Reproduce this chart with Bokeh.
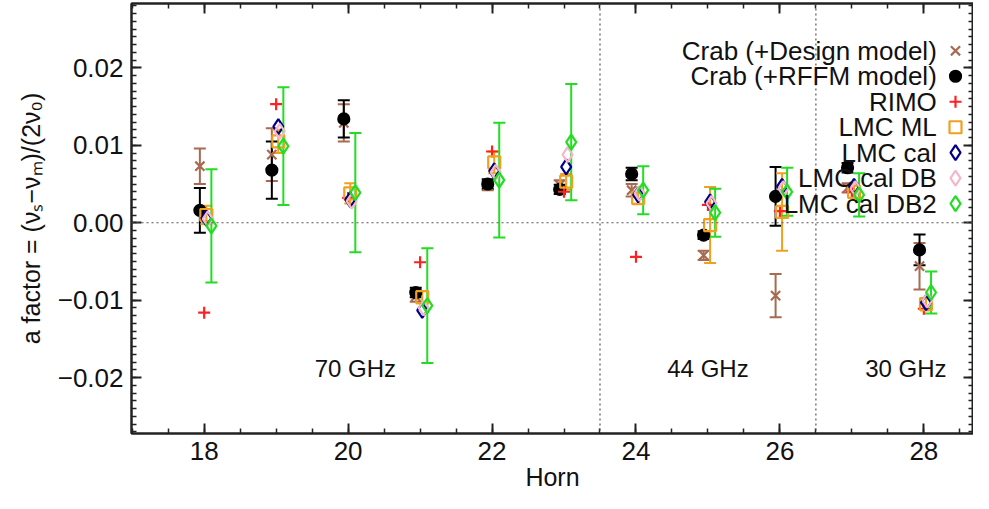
from bokeh.plotting import figure
from bokeh.models import (ColumnDataSource, Whisker, TeeHead, Span, Label, FixedTicker,
                          LinearAxis, CustomJSTickFormatter, Range1d)
from bokeh.embed import file_html
from bokeh.resources import INLINE

# ---------------- data ----------------
horns = [18, 19, 20, 21, 22, 23, 24, 25, 26, 27, 28]

crab_design     = [0.0073, 0.0088, 0.0129, -0.0095, 0.0048, 0.0049, 0.0042, -0.0042, -0.0094, 0.0045, -0.0056]
crab_design_err = [0.0023, 0.0034, 0.0024, 0.0007, 0.0006, 0.0006, 0.0008, 0.0006, 0.0028, 0.0006, 0.0030]
crab_rffm       = [0.0016, 0.0068, 0.0134, -0.0090, 0.0050, 0.0043, 0.0063, -0.0016, 0.0034, 0.0071, -0.0035]
crab_rffm_err   = [0.0029, 0.0037, 0.0024, 0.0006, 0.0006, 0.0006, 0.0008, 0.0005, 0.0038, 0.0006, 0.0020]
rimo            = [-0.0116, 0.0153, 0.0032, -0.0051, 0.0092, 0.0040, -0.0044, 0.0023, 0.0015, 0.0040, -0.0111]
lmc_ml          = [0.0010, 0.0105, 0.0038, -0.0096, 0.0078, 0.0053, 0.0032, -0.0003, 0.0014, 0.0040, -0.0105]
lmc_ml_err      = [0.0012, 0.0015, 0.0013, 0.0008, 0.0014, 0.0010, 0.0008, 0.0049, 0.0050, 0.0008, 0.0008]
lmc_cal         = [0.0006, 0.0124, 0.0030, -0.0113, 0.0067, 0.0072, 0.0036, 0.0027, 0.0047, 0.0047, -0.0103]
lmc_cal_db      = [0.0005, 0.0118, 0.0028, -0.0110, 0.0065, 0.0088, 0.0038, 0.0025, 0.0044, 0.0044, -0.0100]
lmc_cal_db2     = [-0.0004, 0.0099, 0.0039, -0.0107, 0.0055, 0.0104, 0.0042, 0.0013, 0.0040, 0.0036, -0.0090]
lmc_cal_db2_err = [0.0073, 0.0076, 0.0077, 0.0074, 0.0074, 0.0075, 0.0031, 0.0031, 0.0031, 0.0028, 0.0027]

x_ticks = [18, 20, 22, 24, 26, 28]
y_ticks = [-0.02, -0.01, 0.0, 0.01, 0.02]
band_edges = [23.5, 26.5]
band_labels = ["70 GHz", "44 GHz", "30 GHz"]
band_label_x = [20.1, 25.0, 27.75]

# ---------------- style ----------------
FONT = "Liberation Sans"
series = [
    # label, values, errors, marker, color, filled, size, x-offset
    ("Crab (+Design model)", crab_design, crab_design_err, "x", "#a86a50", False, 13, -0.06),
    ("Crab (+RFFM model)", crab_rffm, crab_rffm_err, "circle", "black", True, 11, -0.06),
    ("RIMO", rimo, None, "cross", "#ff2020", False, 12, 0.0),
    ("LMC ML", lmc_ml, lmc_ml_err, "square", "#f0a020", False, 12, 0.03),
    ("LMC cal", lmc_cal, None, "diamond", "#000088", False, 15, 0.03),
    ("LMC cal DB", lmc_cal_db, None, "diamond", "#f4b8cc", False, 15, 0.05),
    ("LMC cal DB2", lmc_cal_db2, lmc_cal_db2_err, "diamond", "#22dd22", False, 15, 0.10),
]

p = figure(width=973, height=493, output_backend="svg", toolbar_location=None,
           x_range=Range1d(16.99, 28.69), y_range=Range1d(-0.0272, 0.0283),
           min_border_left=131, min_border_right=0, min_border_top=3, min_border_bottom=0)
p.xgrid.visible = False
p.ygrid.visible = False
p.outline_line_color = "#222222"
p.outline_line_width = 2
p.background_fill_color = "white"
p.border_fill_color = "white"

fmt = CustomJSTickFormatter(code="return (tick < -1e-9 ? '\u2212' : '') + Math.abs(tick).toFixed(2);")
blank = CustomJSTickFormatter(code="return '';")
xt = FixedTicker(ticks=x_ticks, minor_ticks=[17 + 0.5 * i for i in range(25)])
yt = FixedTicker(ticks=y_ticks, minor_ticks=[round(-0.028 + 0.001 * i, 4) for i in range(58)])

def style_axis(ax, labels=True):
    ax.axis_line_color = "#222222"
    ax.axis_line_width = 2
    ax.major_tick_line_color = "#222222"
    ax.minor_tick_line_color = "#222222"
    ax.major_tick_line_width = 2
    ax.minor_tick_line_width = 1.5
    ax.major_tick_in = 10
    ax.major_tick_out = 0
    ax.minor_tick_in = 5
    ax.minor_tick_out = 0
    if labels:
        ax.major_label_text_font = FONT
        ax.major_label_text_font_size = "26px"
        ax.major_label_text_color = "#111111"
        ax.axis_label_text_font = FONT
        ax.axis_label_text_font_size = "25px"
        ax.axis_label_text_font_style = "normal"
        ax.axis_label_text_color = "#111111"
    else:
        ax.formatter = blank
        ax.major_label_standoff = 0

p.xaxis.ticker = xt
p.yaxis.ticker = yt
p.yaxis.formatter = fmt
style_axis(p.xaxis[0])
style_axis(p.yaxis[0])
p.xaxis.axis_label = "Horn"
p.xaxis.major_label_standoff = 8
p.xaxis.axis_label_standoff = 0
p.yaxis.axis_label = "a factor = (\u03bd\u209b\u2212\u03bd\u2098)/(2\u03bd\u2080)"
p.yaxis.major_label_standoff = 8
p.yaxis.axis_label_standoff = 10

top = LinearAxis(ticker=xt)
style_axis(top, labels=False)
p.add_layout(top, "above")
right = LinearAxis(ticker=yt)
style_axis(right, labels=False)
p.add_layout(right, "right")

# reference lines
p.add_layout(Span(location=0, dimension="width", line_color="#555555", line_width=1.2, line_dash="2 3"))
for b in band_edges:
    p.add_layout(Span(location=b, dimension="height", line_color="#555555", line_width=1.2, line_dash="2 3"))

for txt, bx in zip(band_labels, band_label_x):
    p.add_layout(Label(x=bx, y=-0.01875, text=txt, text_font=FONT, text_font_size="24px",
                       text_align="center", text_baseline="middle", text_color="#111111"))

# data
for label, vals, errs, marker, color, filled, size, off in series:
    xs = [h + off for h in horns]
    data = dict(x=xs, y=vals)
    if errs is not None:
        data["upper"] = [v + e for v, e in zip(vals, errs)]
        data["lower"] = [v - e for v, e in zip(vals, errs)]
    src = ColumnDataSource(data)
    if errs is not None:
        p.add_layout(Whisker(source=src, base="x", upper="upper", lower="lower",
                             line_color=color, line_width=2,
                             upper_head=TeeHead(size=12, line_color=color, line_width=2),
                             lower_head=TeeHead(size=12, line_color=color, line_width=2)))
    p.scatter("x", "y", source=src, marker=marker, size=size, line_color=color, line_width=2.2,
              fill_color=color if filled else None)

# legend (text right-aligned, marker on the right)
LEG_TEXT_X, LEG_MARK_X, LEG_Y0, LEG_DY = 28.18, 28.44, 0.0222, 0.00329
for i, (label, vals, errs, marker, color, filled, size, off) in enumerate(series):
    ly = LEG_Y0 - i * LEG_DY
    p.add_layout(Label(x=LEG_TEXT_X, y=ly, text=label, text_font=FONT, text_font_size="26px",
                       text_align="right", text_baseline="middle", text_color="#111111"))
    p.scatter([LEG_MARK_X], [ly], marker=marker, size=size, line_color=color, line_width=2.2,
              fill_color=color if filled else None)

open("out.html", "w").write(file_html(p, INLINE))
